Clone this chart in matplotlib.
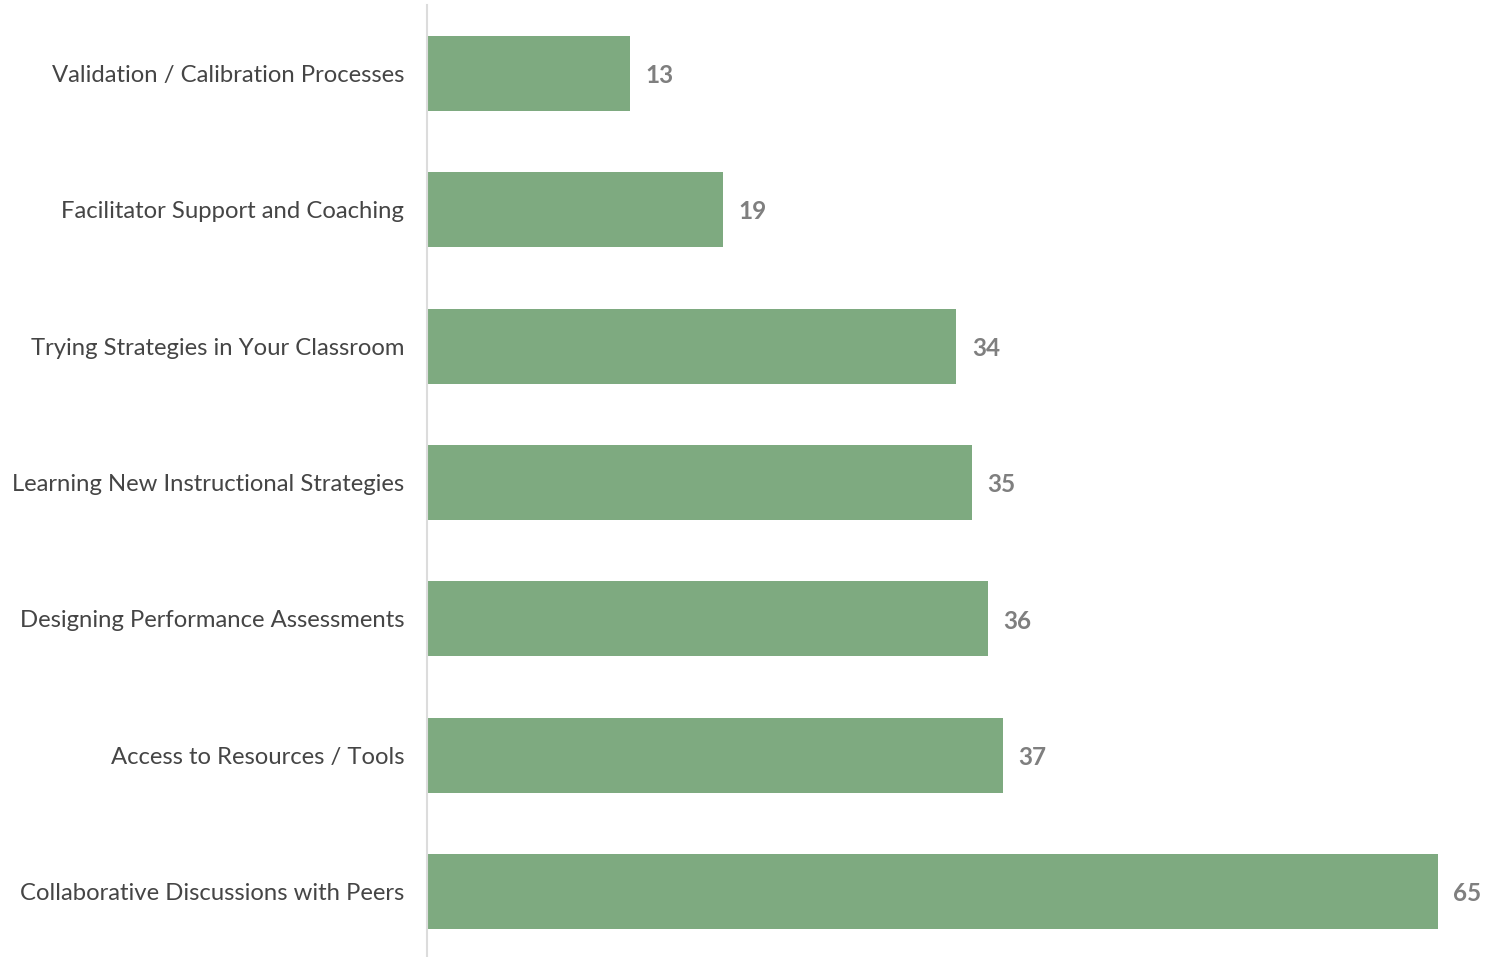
import matplotlib.pyplot as plt

categories = [
    'Validation / Calibration Processes',
    'Facilitator Support and Coaching',
    'Trying Strategies in Your Classroom',
    'Learning New Instructional Strategies',
    'Designing Performance Assessments',
    'Access to Resources / Tools',
    'Collaborative Discussions with Peers',
]
counts = [13, 19, 34, 35, 36, 37, 65]

plt.rcParams['font.family'] = ['Lato', 'DejaVu Sans']

fig = plt.figure(figsize=(14.99, 9.57), dpi=100)
ax = fig.add_axes([427 / 1499, -3 / 957, 1 - 427 / 1499, 959 / 957 - 4 / 957])

pos = list(range(len(categories)))
bars = ax.barh(pos, counts, height=0.55, color='#7eaa80', left=0.08)

ax.set_ylim(6.5, -0.5)
ax.set_xlim(0, 69.0)
ax.set_yticks(pos)
ax.set_yticklabels(categories, fontsize=17.2, color='#454545')
ax.tick_params(axis='y', length=0, pad=16.5)
ax.set_xticks([])

for s in ['top', 'right', 'bottom']:
    ax.spines[s].set_visible(False)
ax.spines['left'].set_color('#dcdcdc')
ax.spines['left'].set_linewidth(1.5)

for b, v in zip(bars, counts):
    ax.annotate(str(v), (b.get_x() + b.get_width(), b.get_y() + b.get_height() / 2),
                xytext=(11, -1.5), textcoords='offset points', va='center', ha='left',
                fontsize=17.5, fontweight='bold', color='#7f7f7f')

fig.savefig('out.png', dpi=100)
